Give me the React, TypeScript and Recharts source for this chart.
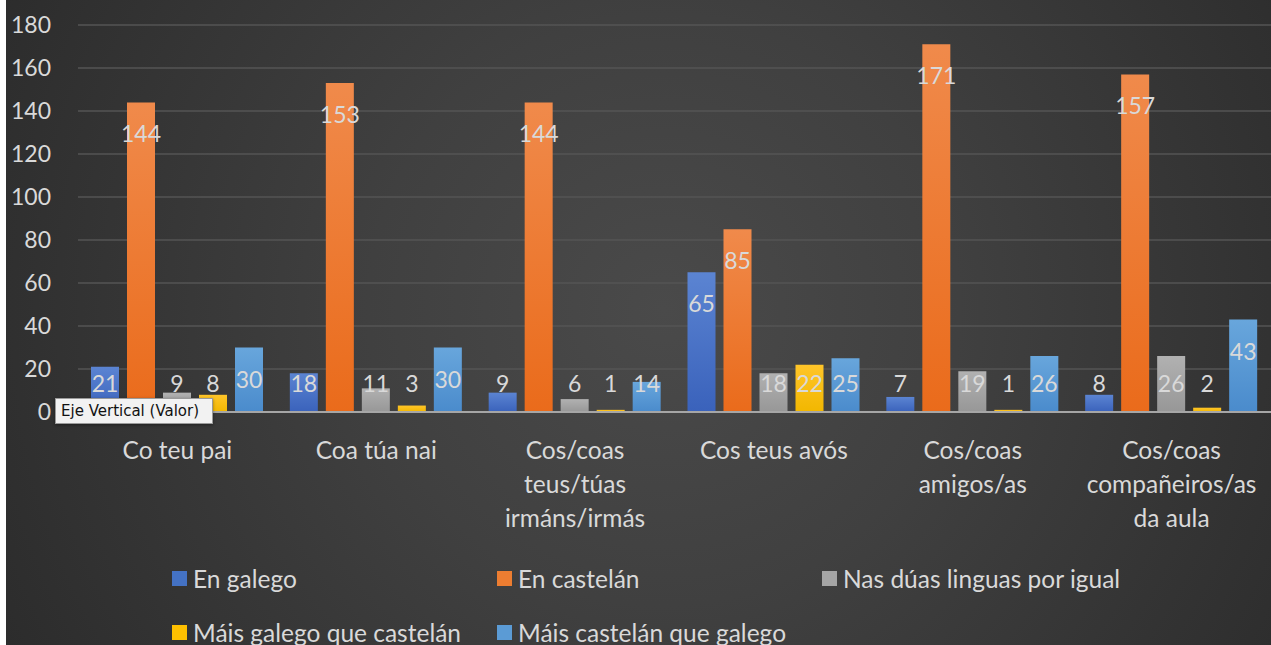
import { BarChart, Bar, XAxis, YAxis, CartesianGrid, LabelList } from 'recharts'

// ─── Data ─────────
const categories = [
  'Co teu pai',
  'Coa túa nai',
  'Cos/coas\nteus/túas\nirmáns/irmás',
  'Cos teus avós',
  'Cos/coas\namigos/as',
  'Cos/coas\ncompañeiros/as\nda aula',
]
const enGalego = [21, 18, 9, 65, 7, 8]
const enCastelan = [144, 153, 144, 85, 171, 157]
const nasDuas = [9, 11, 6, 18, 19, 26]
const maisGalego = [8, 3, 1, 22, 1, 2]
const maisCastelan = [30, 30, 14, 25, 26, 43]
const yTicks = [0, 20, 40, 60, 80, 100, 120, 140, 160, 180]

const series = [
  { key: 'g', name: 'En galego', values: enGalego, top: '#5b84d2', bottom: '#3a62bb', legend: '#4472c4' },
  { key: 'c', name: 'En castelán', values: enCastelan, top: '#f08a4b', bottom: '#ea6b1b', legend: '#ed7d31' },
  { key: 'n', name: 'Nas dúas linguas por igual', values: nasDuas, top: '#b1b1b1', bottom: '#979797', legend: '#a5a5a5' },
  { key: 'mg', name: 'Máis galego que castelán', values: maisGalego, top: '#ffc529', bottom: '#f2b700', legend: '#ffc000' },
  { key: 'mc', name: 'Máis castelán que galego', values: maisCastelan, top: '#68a6dc', bottom: '#4a8bcc', legend: '#5b9bd5' },
]

const data = categories.map((name, i) => {
  const row: Record<string, string | number> = { name }
  series.forEach((s) => (row[s.key] = s.values[i]))
  return row
})

const FONT = 'Lato, "Open Sans", sans-serif'
const TEXT = '#d9d9d9'

const CategoryTick = (props: any) => {
  const { x, y, payload } = props
  const lines = String(payload.value).split('\n')
  return (
    <text x={x} y={y + 29} textAnchor="middle" fill={TEXT} fontSize={24.5} fontFamily={FONT}>
      {lines.map((l, i) => (
        <tspan key={i} x={x} dy={i === 0 ? 0 : 34} dominantBaseline="central">
          {l}
        </tspan>
      ))}
    </text>
  )
}

const ValueLabel = (props: any) => {
  const { x, y, width, height, value } = props
  const cy = Math.min(y + 31, y + height - 29)
  return (
    <text
      x={x + width / 2}
      y={cy}
      textAnchor="middle"
      dominantBaseline="central"
      fill={TEXT}
      fontSize={23}
      fontFamily={FONT}
    >
      {value}
    </text>
  )
}

export default function App() {
  return (
    <div
      style={{
        position: 'absolute',
        left: 6,
        top: 0,
        width: 1265,
        height: 645,
        background: 'radial-gradient(circle at 52% 48%, #4a4a4a 0%, #404040 40%, #2c2c2c 100%)',
        overflow: 'hidden',
      }}
    >
      <BarChart
        width={1265}
        height={645}
        data={data}
        margin={{ top: 25, right: 0, bottom: 0, left: 0 }}
        barSize={28}
        barGap={8}
      >
        <defs>
          {series.map((s) => (
            <linearGradient key={s.key} id={`grad-${s.key}`} x1="0" y1="0" x2="0" y2="1">
              <stop offset="0%" stopColor={s.top} />
              <stop offset="100%" stopColor={s.bottom} />
            </linearGradient>
          ))}
        </defs>
        <CartesianGrid vertical={false} stroke="#545454" strokeWidth={1.5} />
        <XAxis
          dataKey="name"
          interval={0}
          tickLine={false}
          height={233}
          axisLine={{ stroke: '#a6a6a6', strokeWidth: 2 }}
          tick={<CategoryTick />}
        />
        <YAxis
          width={72}
          domain={[0, 180]}
          ticks={yTicks}
          interval={0}
          axisLine={false}
          tickLine={false}
          tickMargin={21}
          tick={{ fill: TEXT, fontSize: 23, fontFamily: FONT }}
        />
        {series.map((s) => (
          <Bar key={s.key} dataKey={s.key} name={s.name} fill={`url(#grad-${s.key})`} isAnimationActive={false}>
            <LabelList dataKey={s.key} content={<ValueLabel />} />
          </Bar>
        ))}
      </BarChart>
      <div style={{ position: 'absolute', left: 166, top: 551, display: 'flex', flexWrap: 'wrap', width: 980 }}>
        {series.map((s) => (
          <div
            key={s.key}
            style={{
              width: 325,
              height: 54,
              display: 'flex',
              alignItems: 'center',
              fontFamily: FONT,
              fontSize: 24.5,
              color: TEXT,
              whiteSpace: 'nowrap',
            }}
          >
            <span style={{ width: 15, height: 15, background: s.legend, marginRight: 6, display: 'inline-block' }} />
            {s.name}
          </div>
        ))}
      </div>
      <div
        style={{
          position: 'absolute',
          left: 49,
          top: 398,
          width: 158,
          height: 26,
          background: '#f2f2f2',
          border: '1px solid #9a9a9a',
          color: '#111',
          fontFamily: '"DejaVu Sans", sans-serif',
          fontSize: 15,
          lineHeight: '24px',
          paddingLeft: 5,
          boxSizing: 'border-box',
          whiteSpace: 'nowrap',
          boxShadow: '0 1px 3px rgba(0,0,0,0.4)',
        }}
      >
        Eje Vertical (Valor)
      </div>
    </div>
  )
}
